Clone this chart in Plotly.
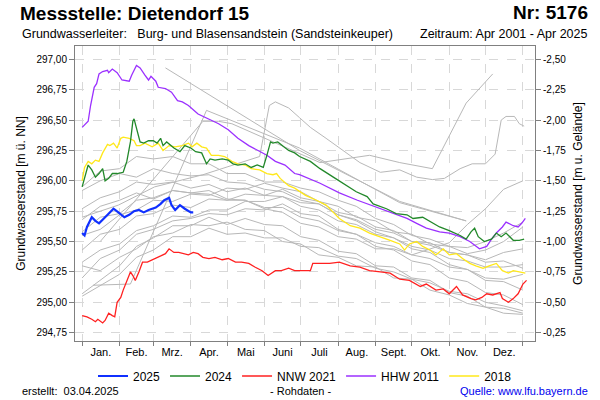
import plotly.graph_objects as go

FONT = "Liberation Sans, Arial, sans-serif"

# ---------------- axis definitions ----------------
month_starts = [0, 31, 59, 90, 120, 151, 181, 212, 243, 273, 304, 334, 365]
month_centers = [15.5, 45, 74.5, 105, 135.5, 166, 196.5, 227.5, 258, 288.5, 319, 349.5]
month_labels = ["Jan.", "Feb.", "Mrz.", "Apr.", "Mai", "Juni", "Juli", "Aug.", "Sept.", "Okt.", "Nov.", "Dez."]

level_ticks = [294.75, 295.00, 295.25, 295.50, 295.75, 296.00, 296.25, 296.50, 296.75, 297.00]
level_tick_text = ["294,75", "295,00", "295,25", "295,50", "295,75", "296,00", "296,25", "296,50", "296,75", "297,00"]
ground_level = 294.50  # m ü. NN ; depth below ground = ground_level - level
depth_ticks = [-0.25, -0.50, -0.75, -1.00, -1.25, -1.50, -1.75, -2.00, -2.25, -2.50]
depth_tick_text = ["-0,25", "-0,50", "-0,75", "-1,00", "-1,25", "-1,50", "-1,75", "-2,00", "-2,25", "-2,50"]
y_min, y_max = 294.681, 297.11
x_min, x_max = -5.9, 375.0

# ---------------- highlighted years (day of year, m ü. NN) ----------------
days_2025 = [0, 2, 4, 8, 11, 14, 18, 22, 26, 30, 35, 39, 43, 47, 51, 55, 61, 65, 68, 72, 74, 77, 81, 85, 90, 92]
vals_2025 = [295.57, 295.55, 295.62, 295.70, 295.67, 295.65, 295.69, 295.73, 295.77, 295.74, 295.70, 295.72, 295.75,
             295.76, 295.74, 295.76, 295.78, 295.81, 295.84, 295.86, 295.80, 295.76, 295.80, 295.77, 295.74, 295.74]

days_2024 = [0, 3, 5, 8, 11, 14, 17, 19, 22, 25, 29, 34, 37, 40, 42, 43, 45, 48, 51, 55, 59, 62, 65, 67, 70, 76, 81,
             85, 90, 94, 99, 103, 106, 110, 116, 121, 125, 129, 135, 140, 145, 150, 153, 156, 158, 162, 167, 171, 176,
             180, 189, 197, 208, 216, 227, 236, 241, 252, 260, 269, 274, 282, 289, 296, 304, 313, 318, 322, 325, 328,
             333, 339, 343, 347, 351, 357, 362, 366]
vals_2024 = [295.95, 296.07, 296.13, 296.09, 296.03, 296.06, 296.10, 296.00, 296.02, 296.06, 296.06, 296.07, 296.16,
             296.32, 296.49, 296.51, 296.44, 296.32, 296.31, 296.33, 296.33, 296.31, 296.35, 296.29, 296.32, 296.27,
             296.24, 296.29, 296.27, 296.24, 296.23, 296.14, 296.18, 296.17, 296.18, 296.17, 296.14, 296.13, 296.14,
             296.11, 296.13, 296.11, 296.21, 296.32, 296.31, 296.32, 296.28, 296.25, 296.23, 296.20, 296.16, 296.10,
             296.03, 295.98, 295.91, 295.87, 295.81, 295.77, 295.73, 295.72, 295.69, 295.70, 295.66, 295.62, 295.59,
             295.55, 295.52, 295.58, 295.61, 295.54, 295.50, 295.52, 295.57, 295.54, 295.57, 295.51, 295.51, 295.52]

days_2021 = [0, 4, 8, 11, 13, 17, 19, 22, 25, 27, 29, 32, 34, 37, 40, 42, 44, 47, 50, 54, 58, 62, 66, 69, 72, 76, 80,
             84, 88, 92, 96, 100, 105, 110, 116, 121, 127, 132, 138, 143, 149, 154, 160, 165, 171, 176, 180, 189, 191,
             197, 205, 213, 222, 230, 238, 247, 255, 263, 271, 280, 285, 293, 299, 304, 310, 315, 322, 326, 331, 335,
             340, 346, 348, 353, 357, 361, 365, 368]
vals_2021 = [294.89, 294.88, 294.86, 294.84, 294.86, 294.83, 294.85, 294.91, 294.89, 294.88, 295.00, 295.04, 295.10,
             295.18, 295.25, 295.22, 295.18, 295.25, 295.33, 295.33, 295.35, 295.37, 295.39, 295.40, 295.44, 295.41,
             295.41, 295.40, 295.39, 295.41, 295.40, 295.37, 295.36, 295.37, 295.35, 295.36, 295.33, 295.33, 295.32,
             295.29, 295.26, 295.22, 295.26, 295.26, 295.28, 295.26, 295.26, 295.26, 295.32, 295.32, 295.32, 295.33,
             295.30, 295.29, 295.26, 295.25, 295.24, 295.19, 295.18, 295.13, 295.15, 295.10, 295.11, 295.07, 295.13,
             295.06, 295.03, 295.02, 295.04, 295.07, 295.06, 295.08, 295.03, 295.00, 295.03, 295.07, 295.15, 295.18]

days_2011 = [0, 5, 7, 10, 12, 14, 17, 21, 22, 25, 29, 33, 39, 41, 45, 48, 52, 55, 57, 61, 63, 69, 74, 79, 83, 88, 96,
             105, 113, 121, 129, 138, 145, 153, 160, 168, 176, 180, 197, 213, 228, 236, 247, 255, 260, 269, 277, 285,
             296, 304, 313, 321, 329, 335, 339, 343, 348, 351, 357, 361, 364, 367]
vals_2011 = [296.44, 296.49, 296.62, 296.77, 296.80, 296.88, 296.90, 296.91, 296.89, 296.92, 296.89, 296.83, 296.82,
             296.87, 296.95, 296.93, 296.87, 296.83, 296.86, 296.82, 296.77, 296.76, 296.73, 296.66, 296.65, 296.62,
             296.55, 296.51, 296.47, 296.42, 296.35, 296.29, 296.25, 296.21, 296.16, 296.13, 296.06, 296.05, 295.98,
             295.90, 295.84, 295.81, 295.77, 295.74, 295.72, 295.69, 295.65, 295.61, 295.58, 295.57, 295.54, 295.50,
             295.44, 295.46, 295.52, 295.57, 295.62, 295.66, 295.63, 295.62, 295.65, 295.69]

days_2018 = [0, 2, 5, 8, 11, 14, 17, 21, 23, 26, 29, 32, 34, 39, 43, 45, 48, 52, 58, 63, 67, 72, 77, 83, 88, 91, 95,
             99, 103, 107, 113, 118, 124, 129, 135, 140, 147, 153, 158, 161, 164, 171, 176, 185, 194, 202, 208, 213,
             222, 230, 238, 247, 255, 263, 267, 271, 277, 282, 288, 293, 299, 304, 310, 315, 321, 326, 332, 337, 343,
             348, 353, 357, 362, 367]
vals_2018 = [296.00, 296.11, 296.16, 296.14, 296.17, 296.16, 296.23, 296.30, 296.29, 296.31, 296.27, 296.35, 296.36,
             296.35, 296.33, 296.29, 296.29, 296.31, 296.28, 296.31, 296.25, 296.29, 296.28, 296.29, 296.31, 296.28,
             296.31, 296.28, 296.27, 296.21, 296.21, 296.20, 296.16, 296.14, 296.13, 296.10, 296.09, 296.06, 296.05,
             296.06, 296.02, 295.96, 295.94, 295.88, 295.84, 295.80, 295.74, 295.69, 295.63, 295.61, 295.57, 295.54,
             295.51, 295.48, 295.43, 295.48, 295.50, 295.46, 295.43, 295.39, 295.44, 295.39, 295.40, 295.36, 295.32,
             295.30, 295.28, 295.30, 295.32, 295.26, 295.24, 295.26, 295.25, 295.24]

# ---------------- other years (grey), day of year / m ü. NN ----------------
grey_days = [0, 15, 31, 45, 59, 75, 90, 105, 120, 135, 151, 166, 181, 196, 212, 227, 243, 258, 273, 288, 304, 319, 334, 349, 365]
grey_a = [295.92, 296.00, 296.06, 296.03, 296.10, 296.06, 296.04, 296.05, 295.99, 295.98, 295.93, 295.91, 295.84, 295.81, 295.72, 295.68, 295.60, 295.57, 295.50, 295.47, 295.41, 295.39, 295.35, 295.41, 295.44]
grey_b = [295.77, 295.86, 295.91, 295.99, 295.97, 295.99, 295.94, 295.97, 295.91, 295.94, 295.88, 295.87, 295.79, 295.76, 295.67, 295.64, 295.56, 295.53, 295.46, 295.43, 295.36, 295.34, 295.29, 295.29, 295.31]
grey_c = [295.68, 295.79, 295.84, 295.90, 295.85, 295.92, 295.90, 295.89, 295.84, 295.84, 295.78, 295.78, 295.70, 295.67, 295.59, 295.56, 295.49, 295.46, 295.39, 295.36, 295.29, 295.27, 295.20, 295.19, 295.23]
grey_d = [295.55, 295.60, 295.72, 295.76, 295.84, 295.83, 295.89, 295.88, 295.94, 295.93, 295.98, 295.94, 295.91, 295.83, 295.79, 295.70, 295.67, 295.58, 295.56, 295.48, 295.46, 295.40, 295.43, 295.50, 295.62]
grey_e = [295.43, 295.56, 295.60, 295.71, 295.73, 295.80, 295.78, 295.85, 295.84, 295.89, 295.88, 295.93, 295.86, 295.83, 295.74, 295.71, 295.62, 295.59, 295.50, 295.49, 295.41, 295.39, 295.33, 295.34, 295.28]
grey_f = [295.33, 295.43, 295.48, 295.59, 295.63, 295.71, 295.70, 295.76, 295.76, 295.83, 295.83, 295.87, 295.82, 295.81, 295.72, 295.67, 295.58, 295.53, 295.44, 295.41, 295.31, 295.27, 295.18, 295.17, 295.10]
grey_g = [295.20, 295.36, 295.43, 295.56, 295.60, 295.67, 295.69, 295.73, 295.72, 295.77, 295.76, 295.81, 295.73, 295.71, 295.60, 295.56, 295.46, 295.43, 295.34, 295.31, 295.20, 295.17, 295.08, 295.06, 294.98]
grey_h = [295.07, 295.18, 295.30, 295.46, 295.53, 295.63, 295.63, 295.70, 295.64, 295.69, 295.64, 295.63, 295.54, 295.51, 295.42, 295.40, 295.30, 295.29, 295.20, 295.18, 295.08, 295.05, 294.96, 294.95, 294.91]
grey_i = [295.05, 295.14, 295.23, 295.37, 295.43, 295.54, 295.54, 295.61, 295.56, 295.57, 295.53, 295.53, 295.46, 295.45, 295.38, 295.36, 295.28, 295.25, 295.19, 295.16, 295.09, 295.07, 295.00, 294.97, 294.93]
grey_j = [295.95, 296.08, 296.10, 296.20, 296.18, 296.20, 296.14, 296.14, 296.06, 296.06, 295.99, 295.99, 295.94, 295.91, 295.84, 295.79, 295.69, 295.64, 295.55, 295.52, 295.46, 295.45, 295.50, 295.57, 295.66]
grey_k = [295.58, 295.70, 295.73, 295.84, 295.86, 295.92, 295.90, 295.92, 295.85, 295.84, 295.77, 295.74, 295.65, 295.62, 295.54, 295.52, 295.44, 295.44, 295.39, 295.44, 295.49, 295.64, 295.77, 295.93, 296.00]
grey_l = [295.30, 295.26, 295.37, 295.44, 295.54, 295.57, 295.64, 295.63, 295.66, 295.60, 295.59, 295.50, 295.48, 295.39, 295.37, 295.30, 295.29, 295.20, 295.19, 295.10, 295.06, 294.99, 294.96, 294.91, 294.90]

grey_m_days = [69, 180, 263, 318]
grey_m = [296.93, 296.25, 295.83, 295.67]
grey_n_days = [0, 30, 60, 100, 147, 155, 160, 171, 180, 189, 202, 215, 230, 247, 263, 277, 290, 300, 313, 323, 334, 342, 347, 351, 358, 362, 366]
grey_n = [295.70, 295.80, 295.95, 296.05, 296.20, 296.62, 296.65, 296.60, 296.52, 296.44, 296.35, 296.26, 296.15, 296.07, 296.09, 296.03, 296.01, 296.02, 296.10, 296.14, 296.14, 296.22, 296.50, 296.53, 296.53, 296.47, 296.45]
grey_o_days = [15, 100, 113, 124, 197, 238, 263, 290, 318, 340]
grey_o = [295.50, 296.49, 296.49, 296.47, 296.15, 296.21, 296.15, 296.10, 296.64, 296.88]
grey_p_days = [9, 40, 103, 180, 263, 318]
grey_p = [295.14, 295.15, 296.58, 296.27, 295.82, 295.67]

grey_series = [
    (grey_days, grey_a), (grey_days, grey_b), (grey_days, grey_c), (grey_days, grey_d),
    (grey_days, grey_e), (grey_days, grey_f), (grey_days, grey_g), (grey_days, grey_h),
    (grey_days, grey_i), (grey_days, grey_j), (grey_days, grey_k), (grey_days, grey_l),
    (grey_m_days, grey_m), (grey_n_days, grey_n), (grey_o_days, grey_o), (grey_p_days, grey_p),
]

fig = go.Figure()

for d, v in grey_series:
    fig.add_trace(go.Scatter(x=d, y=v, mode="lines", line=dict(color="#b8b8b8", width=1),
                             showlegend=False, hoverinfo="skip"))

highlight = [
    ("2018", days_2018, vals_2018, "#ffe81a", 1.3, 5),
    ("HHW 2011", days_2011, vals_2011, "#9b30ff", 1.3, 4),
    ("NNW 2021", days_2021, vals_2021, "#ff2020", 1.3, 3),
    ("2024", days_2024, vals_2024, "#22882a", 1.3, 2),
    ("2025", days_2025, vals_2025, "#1030ff", 2.2, 1),
]
for name, d, v, c, w, rank in highlight:
    fig.add_trace(go.Scatter(x=d, y=v, mode="lines", name=name, line=dict(color=c, width=w),
                             legendrank=rank))

# depth axis carrier (same 2025 data expressed as depth below ground, invisible)
fig.add_trace(go.Scatter(x=days_2025, y=[ground_level - v for v in vals_2025], yaxis="y2",
                         mode="lines", line=dict(color="rgba(0,0,0,0)", width=0),
                         showlegend=False, hoverinfo="skip"))
# month label carrier axis
fig.add_trace(go.Scatter(x=month_centers, y=[None] * len(month_centers), xaxis="x2",
                         mode="lines", showlegend=False, hoverinfo="skip"))

L, R, T, B = 75, 65, 46, 59
W, H = 600, 400
pw, ph = W - L - R, H - T - B


def px_x(p):
    return (p - L) / pw


def px_y(p):
    return (H - B - p) / ph


grid = dict(showgrid=True, gridcolor="#d8d8d8", griddash="dash", gridwidth=1)

fig.update_layout(
    width=W, height=H,
    margin=dict(l=L, r=R, t=T, b=B, autoexpand=False),
    paper_bgcolor="white", plot_bgcolor="white",
    font=dict(family=FONT, size=10, color="black"),
    title=dict(text="<b>Messstelle: Dietendorf 15</b>", x=20 / W, xanchor="left", xref="container",
               y=1 - 13 / H, yanchor="middle", yref="container", font=dict(size=19, color="black")),
    xaxis=dict(range=[x_min, x_max], tickmode="array", tickvals=month_starts, showticklabels=False,
               ticks="outside", ticklen=4, tickcolor="#808080", showline=True, linecolor="#808080",
               mirror=True, zeroline=False, **grid),
    xaxis2=dict(range=[x_min, x_max], overlaying="x", side="bottom", tickmode="array",
                tickvals=month_centers, ticktext=month_labels, ticks="", showgrid=False,
                zeroline=False, showline=False, tickfont=dict(size=11), ticklabelstandoff=3),
    yaxis=dict(range=[y_min, y_max], tickmode="array", tickvals=level_ticks, ticktext=level_tick_text,
               ticks="outside", ticklen=5, tickcolor="#808080", showline=True, linecolor="#808080",
               mirror=True, zeroline=False, tickfont=dict(size=10),
               title=dict(text="Grundwasserstand [m ü. NN]", font=dict(size=12), standoff=8), **grid),
    yaxis2=dict(range=[ground_level - y_min, ground_level - y_max], overlaying="y", side="right",
                tickmode="array", tickvals=depth_ticks, ticktext=depth_tick_text, ticks="outside",
                ticklen=5, tickcolor="#808080", showline=True, linecolor="#808080", showgrid=False,
                zeroline=False, tickfont=dict(size=10),
                title=dict(text="Grundwasserstand [m u. Gelände]", font=dict(size=12), standoff=8)),
    legend=dict(orientation="h", x=0.5, xanchor="center", y=px_y(376), yanchor="middle",
                font=dict(size=12), itemwidth=30, bgcolor="rgba(0,0,0,0)"),
    showlegend=True,
)

NB = "\u00a0"
annotations = [
    dict(text="<b>Nr: 5176</b>", x=px_x(590), y=px_y(13), xanchor="right", yanchor="middle",
         font=dict(size=19)),
    dict(text="Grundwasserleiter:" + NB * 3 + "Burg- und Blasensandstein (Sandsteinkeuper)",
         x=px_x(20), y=px_y(34), xanchor="left", yanchor="middle", font=dict(size=12.5)),
    dict(text="Zeitraum: Apr 2001 - Apr 2025", x=px_x(590), y=px_y(34), xanchor="right",
         yanchor="middle", font=dict(size=12.5)),
    dict(text="erstellt:" + NB * 2 + "03.04.2025", x=px_x(20), y=px_y(391), xanchor="left",
         yanchor="middle", font=dict(size=11)),
    dict(text="- Rohdaten -", x=px_x(300), y=px_y(391), xanchor="center", yanchor="middle",
         font=dict(size=11)),
    dict(text="Quelle: www.lfu.bayern.de", x=px_x(590), y=px_y(391), xanchor="right",
         yanchor="middle", font=dict(size=11, color="#0000ee")),
]
for a in annotations:
    a.update(xref="paper", yref="paper", showarrow=False)
fig.update_layout(annotations=annotations)

fig.write_html("out.html", config={"displayModeBar": False},
               post_script="document.body.style.margin='0';document.body.style.padding='0';")
